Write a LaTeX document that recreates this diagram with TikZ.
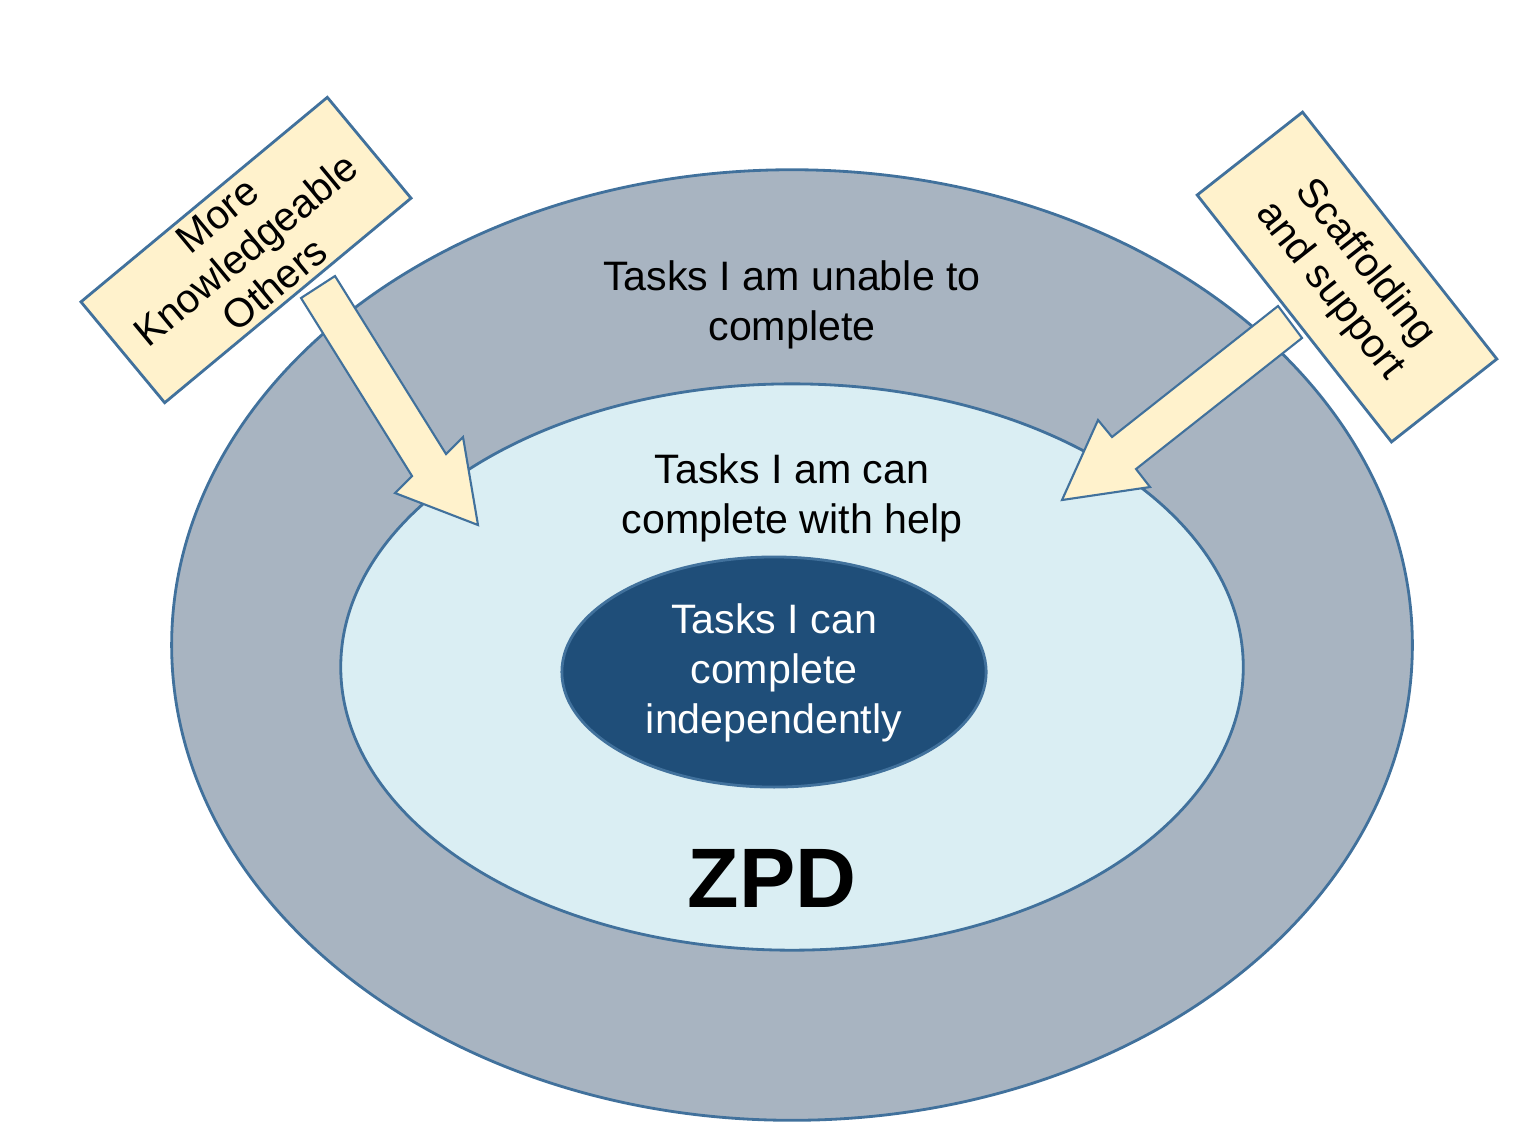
\documentclass[tikz,border=0pt]{standalone}
\usepackage{fontspec}
\setmainfont{Liberation Sans}
\usetikzlibrary{shapes.geometric}
\definecolor{outerfill}{HTML}{A8B4C1}
\definecolor{midfill}{HTML}{DAEEF3}
\definecolor{innerfill}{HTML}{1F4E79}
\definecolor{edgeblue}{HTML}{41719C}
\definecolor{notefill}{HTML}{FFF2CC}
\tikzset{
  zone/.style={ellipse, draw=edgeblue, line width=0.8pt, inner sep=0pt},
  label/.style={align=center, font=\fontsize{11.7}{14.2}\selectfont},
  note/.style={draw=edgeblue, fill=notefill, line width=0.8pt, align=center,
    font=\fontsize{11.5}{12.8}\selectfont, inner sep=0pt},
  pointer/.style={draw=edgeblue, fill=notefill, line width=0.6pt}
}
\begin{document}
\begin{tikzpicture}[x=0.01cm, y=-0.01cm]
\useasboundingbox (0,0) rectangle (1525,1147);
% Zones
\node[zone, fill=outerfill, minimum width=12.4cm, minimum height=9.5cm] (outer) at (792,645) {};
\node[zone, fill=midfill, minimum width=9.02cm, minimum height=5.66cm] (help) at (792,667) {};
\node[zone, fill=innerfill, minimum width=4.24cm, minimum height=2.3cm] (self) at (774,672) {};
% Zone texts
\node[label] (unable) at (792,305) {Tasks I am unable to\\complete};
\node[label] (withhelp) at (792,498) {Tasks I am can\\complete with help};
\node[label, text=white] (indep) at (774,673) {Tasks I can\\complete\\independently};
\node[font=\fontsize{24}{28}\selectfont\bfseries] (zpd) at (772,878) {ZPD};
% Arrows
\draw[pointer] (301,298) -- (335,276) -- (446,454) -- (463,437) -- (478,525)
  -- (395,493) -- (412,476) -- cycle;
\draw[pointer] (1278,306) -- (1302,338) -- (1136,469) -- (1150,487) -- (1062,500)
  -- (1098,420) -- (1112,437) -- cycle;
% Notes
\node[note, rotate=39.7, minimum width=3.2cm, minimum height=1.31cm] (mko) at (246,250)
  {More\\Knowledgeable\\Others};
\node[note, rotate=-51.8, minimum width=3.14cm, minimum height=1.34cm] (scaf) at (1347,277)
  {Scaffolding\\and support};
\end{tikzpicture}
\end{document}
